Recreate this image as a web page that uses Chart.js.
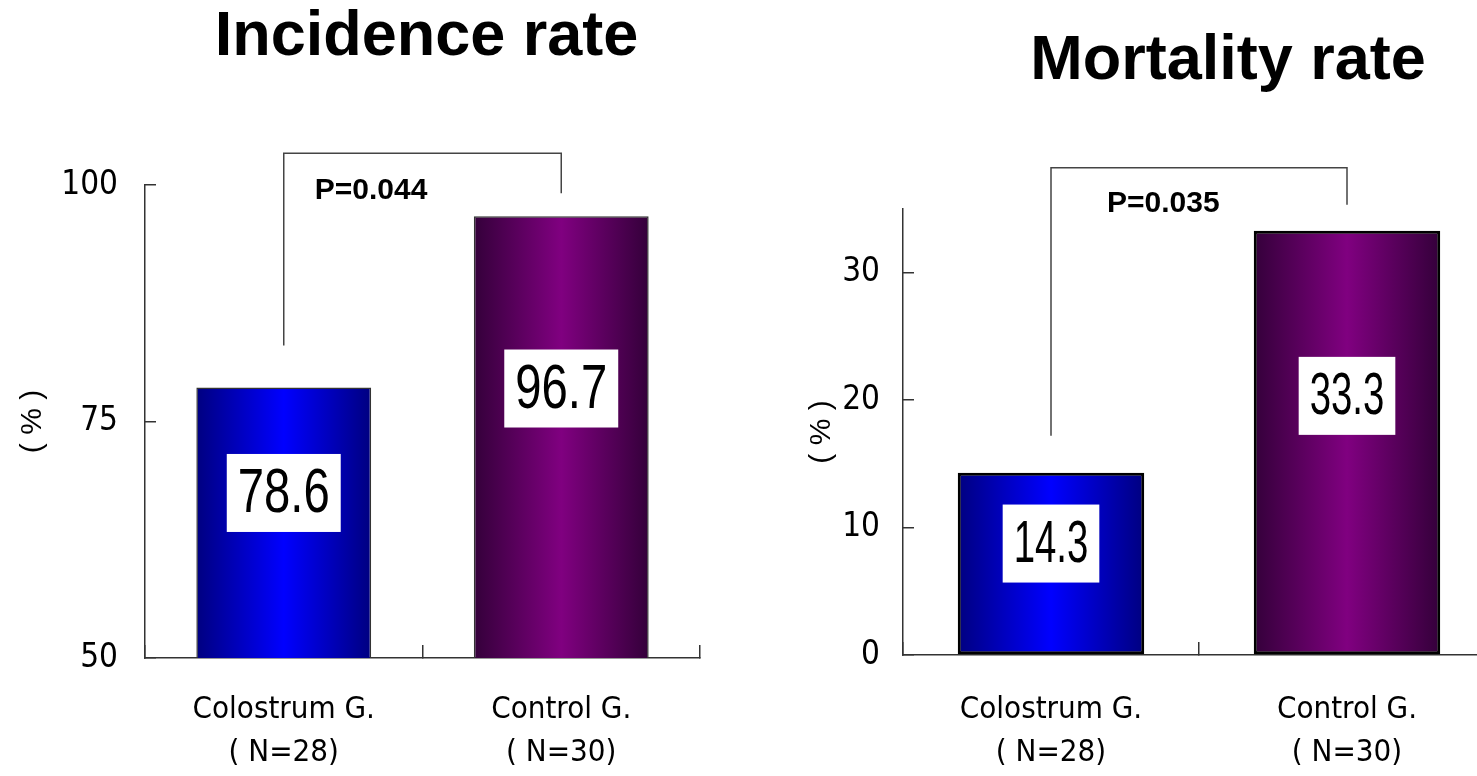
<!DOCTYPE html>
<html>
<head>
<meta charset="utf-8">
<script src="https://cdn.jsdelivr.net/npm/chart.js@4/dist/chart.umd.min.js"></script>
<style>
    html, body { margin: 0; padding: 0; background: #fff; width: 1477px; height: 776px; overflow: hidden; position: relative; }
    canvas { position: absolute; top: 0; }
    #incidenceChart { left: 0; }
    #mortalityChart { left: 760px; }
</style>
</head>
<body>
<canvas id="incidenceChart" width="740" height="776"></canvas>
<canvas id="mortalityChart" width="760" height="776"></canvas>
<script>
const groups = [["Colostrum G.", "( N=28)"], ["Control G.", "( N=30)"]];
const incidence = [78.6, 96.7];
const mortality = [14.3, 33.3];
const incidenceTicks = [50, 75, 100];
const mortalityTicks = [0, 10, 20, 30];
const pValues = ["P=0.044", "P=0.035"];

const NARROW = '"Liberation Sans Narrow", "Arial Narrow", "DejaVu Sans Condensed", sans-serif';
const SANS = '"Liberation Sans", Arial, sans-serif';

// dark edges, bright middle, per bar
const barColors = [
    ["#000080", "#0000ff"],
    ["#34003a", "#800080"],
];

function barGradient(context) {
    const chart = context.chart;
    const xs = chart.scales.x;
    const pair = barColors[context.dataIndex] || barColors[0];
    if (!xs || context.dataIndex === undefined) return pair[1];
    const cx = xs.getPixelForValue(context.dataIndex);
    const half = (xs.width / chart.data.labels.length) * 0.63 / 2;
    if (!Number.isFinite(cx) || !Number.isFinite(half) || half <= 0) return pair[1];
    const g = chart.ctx.createLinearGradient(cx - half, 0, cx + half, 0);
    g.addColorStop(0, pair[0]);
    g.addColorStop(0.5, pair[1]);
    g.addColorStop(1, pair[0]);
    return g;
}

// title, value boxes and the P bracket
const annotate = {
    id: "annotate",
    afterDatasetsDraw(chart, args, opts) {
        const ctx = chart.ctx;
        const a = chart.chartArea;
        const bars = chart.getDatasetMeta(0).data;
        const values = chart.data.datasets[0].data;
        ctx.save();

        ctx.fillStyle = "#000";
        ctx.textAlign = "center";
        ctx.textBaseline = "middle";
        ctx.font = `bold ${opts.titleSize}px ${SANS}`;
        ctx.fillText(opts.title, (a.left + a.right) / 2 + opts.titleDx, opts.titleY);

        bars.forEach((bar, i) => {
            const text = values[i].toFixed(1);
            ctx.font = `${opts.valueSize}px ${SANS}`;
            const w = ctx.measureText(text).width * opts.squeeze;
            const bottom = Math.min(bar.base, a.bottom);
            const cy = bar.y + (bottom - bar.y) * 0.39;
            ctx.fillStyle = "#fff";
            ctx.fillRect(bar.x - w / 2 - 11, cy - 39, w + 22, 78);
            ctx.fillStyle = "#000";
            ctx.save();
            ctx.translate(bar.x, cy + 2);
            ctx.scale(opts.squeeze, 1);
            ctx.fillText(text, 0, 0);
            ctx.restore();
        });

        const top = Math.min(bars[0].y, bars[1].y) - opts.rise;
        ctx.strokeStyle = "#444";
        ctx.lineWidth = 1.5;
        ctx.beginPath();
        ctx.moveTo(bars[0].x, bars[0].y - opts.gapLeft);
        ctx.lineTo(bars[0].x, top);
        ctx.lineTo(bars[1].x, top);
        ctx.lineTo(bars[1].x, bars[1].y - opts.gapRight);
        ctx.stroke();

        ctx.fillStyle = "#000";
        ctx.textAlign = "left";
        ctx.font = `bold 30px ${SANS}`;
        ctx.fillText(opts.pText, bars[0].x + opts.pDx, top + opts.pDy);
        ctx.restore();
    },
};

function makeChart(id, values, ticks, min, max, s) {
    return new Chart(document.getElementById(id), {
        type: "bar",
        data: {
            labels: groups,
            datasets: [{
                data: values,
                backgroundColor: barGradient,
                borderColor: s.barBorder,
                borderWidth: s.barBorderWidth,
                borderSkipped: false,
                categoryPercentage: 1,
                barPercentage: 0.63,
            }],
        },
        options: {
            responsive: false,
            animation: false,
            layout: { padding: { left: 0, right: s.padRight, top: s.padTop, bottom: 0 } },
            plugins: {
                legend: { display: false },
                tooltip: { enabled: false },
                annotate: s.annotate,
            },
            scales: {
                x: {
                    afterFit: (axis) => { axis.height = s.xHeight; },
                    border: { color: "#333", width: 1.5 },
                    grid: { drawOnChartArea: false, offset: true, tickLength: -13, color: "#333", lineWidth: 1.5 },
                    ticks: {
                        padding: s.xPad,
                        color: "#000",
                        maxRotation: 0,
                        autoSkip: false,
                        font: { family: NARROW, size: 31, lineHeight: "43px" },
                    },
                },
                y: {
                    min: min,
                    max: max,
                    afterBuildTicks: (axis) => { axis.ticks = ticks.map((v) => ({ value: v })); },
                    afterFit: (axis) => { axis.width = s.yWidth; },
                    border: { color: "#333", width: 1.5 },
                    grid: { drawOnChartArea: false, tickLength: -11, color: "#333", lineWidth: 1.5 },
                    ticks: { padding: s.yPad, color: "#000", font: { family: NARROW, size: 33 } },
                    title: {
                        display: true,
                        text: "( % )",
                        color: "#000",
                        font: { family: SANS, size: 30 },
                        padding: { top: s.yTitlePad, bottom: 0 },
                    },
                },
            },
        },
        plugins: [annotate],
    });
}

makeChart("incidenceChart", incidence, incidenceTicks, 50, 100, {
    padRight: 40, padTop: 185, xHeight: 118, xPad: 43, yWidth: 145, yPad: 38, yTitlePad: 15,
    barBorder: "#333", barBorderWidth: 1.5,
    annotate: {
        title: "Incidence rate", titleSize: 63, titleDx: 4, titleY: 38,
        valueSize: 63, squeeze: 0.75,
        rise: 63, gapLeft: 42, gapRight: 23, pText: pValues[0], pDx: 31, pDy: 38,
    },
});

makeChart("mortalityChart", mortality, mortalityTicks, 0, 35, {
    padRight: 25, padTop: 209, xHeight: 121, xPad: 46, yWidth: 143, yPad: 34, yTitlePad: 44,
    barBorder: "#000", barBorderWidth: 3,
    annotate: {
        title: "Mortality rate", titleSize: 63, titleDx: 29, titleY: 62,
        valueSize: 59, squeeze: 0.65,
        rise: 63, gapLeft: 37, gapRight: 26, pText: pValues[1], pDx: 56, pDy: 36,
    },
});
</script>
</body>
</html>
